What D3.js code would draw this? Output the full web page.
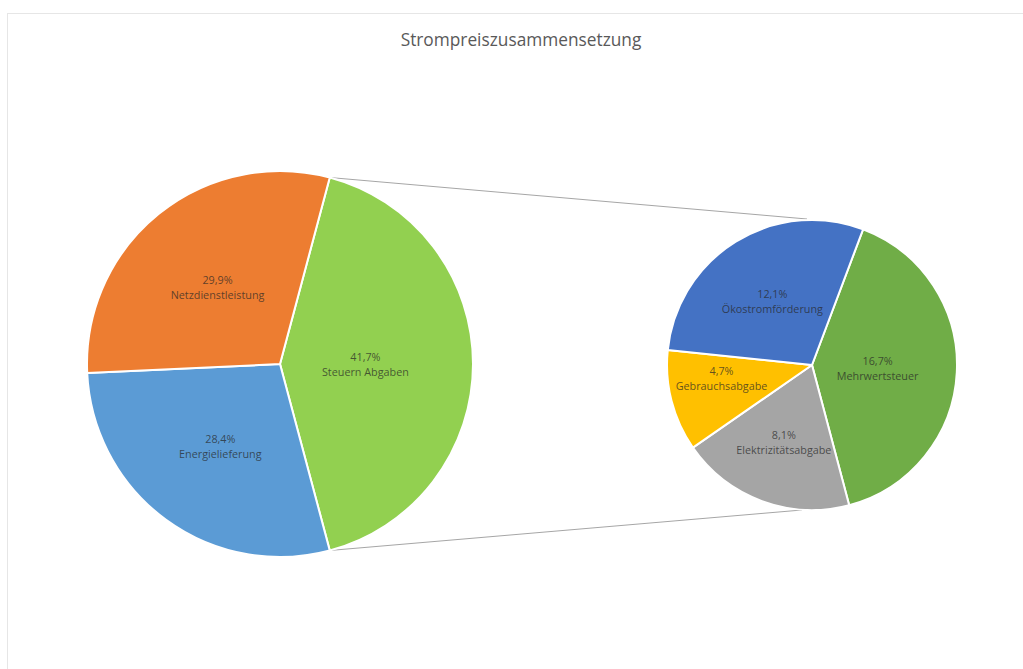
<!DOCTYPE html>
<html>
<head>
<meta charset="utf-8">
<script src="https://cdn.jsdelivr.net/npm/d3@7"></script>
<style>
  body { margin: 0; background: #fff; }
  text { font-family: "Open Sans", "Liberation Sans", sans-serif; }
</style>
</head>
<body>
<svg id="chart" width="1023" height="669"></svg>
<script>
// main pie (clockwise, starting with the split-off slice)
const mainNames = ["Steuern Abgaben", "Energielieferung", "Netzdienstleistung"]
const mainValues = [41.7, 28.4, 29.9]
const mainColors = ["#92d050", "#5b9bd5", "#ed7d31"]

// secondary pie: breakdown of "Steuern Abgaben"
const subNames = ["Mehrwertsteuer", "Elektrizitätsabgabe", "Gebrauchsabgabe", "Ökostromförderung"]
const subValues = [16.7, 8.1, 4.7, 12.1]
const subColors = ["#70ad47", "#a5a5a5", "#ffc000", "#4472c4"]

const title = "Strompreiszusammensetzung"

const svg = d3.select("#chart")
const fmt = v => d3.format(".1f")(v).replace(".", ",") + "%"

// chart frame
svg.append("rect")
    .attr("x", 7.5).attr("y", 13.5)
    .attr("width", 1100).attr("height", 700)
    .attr("fill", "none")
    .attr("stroke", "#e6e6e6")

svg.append("text")
    .attr("x", 521).attr("y", 46)
    .attr("text-anchor", "middle")
    .attr("font-size", 17.3)
    .attr("fill", "#595959")
    .text(title)

const main = {cx: 280, cy: 364, r: 193}
const sub = {cx: 812, cy: 365, r: 145}

// the split slice is centred on the right side of the main pie
const splitAngle = mainValues[0] / d3.sum(mainValues) * 2 * Math.PI
const mainStart = Math.PI / 2 - splitAngle / 2
const subStart = 0.36

function drawPie(g, names, values, colors, p, start) {
    const pie = d3.pie().sort(null).startAngle(start).endAngle(start + 2 * Math.PI)
    const arc = d3.arc().innerRadius(0).outerRadius(p.r)
    const arcs = pie(values)

    const grp = g.append("g").attr("transform", `translate(${p.cx},${p.cy})`)

    grp.selectAll("path.slice")
        .data(arcs)
        .join("path")
        .attr("class", "slice")
        .attr("d", arc)
        .attr("fill", (d, i) => colors[i])
        .attr("stroke", "#fff")
        .attr("stroke-width", 2)
        .attr("stroke-linejoin", "round")

    //labels near the area centroid of each slice
    const lbl = grp.selectAll("g.lbl")
        .data(arcs)
        .join("g")
        .attr("class", "lbl")
        .attr("transform", d => {
            const half = (d.endAngle - d.startAngle) / 2
            const mid = (d.startAngle + d.endAngle) / 2
            const k = Math.min(0.9 * 2 * Math.sin(half) / (3 * half), 0.6)
            return `translate(${Math.sin(mid) * p.r * k - (k > 0.58 ? 8 : 0)},${-Math.cos(mid) * p.r * k - (k > 0.58 ? 8 : 0)})`
        })

    lbl.append("text")
        .attr("y", -3)
        .attr("text-anchor", "middle")
        .attr("font-size", 10.8)
        .attr("fill", "#262626")
        .attr("fill-opacity", 0.72)
        .text(d => fmt(d.data))

    lbl.append("text")
        .attr("y", 12)
        .attr("text-anchor", "middle")
        .attr("font-size", 10.8)
        .attr("fill", "#262626")
        .attr("fill-opacity", 0.72)
        .text((d, i) => names[i])

    return arcs
}

// connector lines from the split slice edges to the secondary pie
const topPt = {x: main.cx + Math.sin(mainStart) * main.r, y: main.cy - Math.cos(mainStart) * main.r}
const botPt = {x: main.cx + Math.sin(mainStart + splitAngle) * main.r, y: main.cy - Math.cos(mainStart + splitAngle) * main.r}

const lines = svg.append("g")
lines.append("line")
    .attr("x1", topPt.x).attr("y1", topPt.y)
    .attr("x2", sub.cx - 5).attr("y2", sub.cy - sub.r - 1)
lines.append("line")
    .attr("x1", botPt.x).attr("y1", botPt.y)
    .attr("x2", sub.cx - 10).attr("y2", sub.cy + sub.r)
lines.selectAll("line")
    .attr("stroke", "#a6a6a6")
    .attr("stroke-width", 1)

drawPie(svg, mainNames, mainValues, mainColors, main, mainStart)
drawPie(svg, subNames, subValues, subColors, sub, subStart)
</script>
</body>
</html>
